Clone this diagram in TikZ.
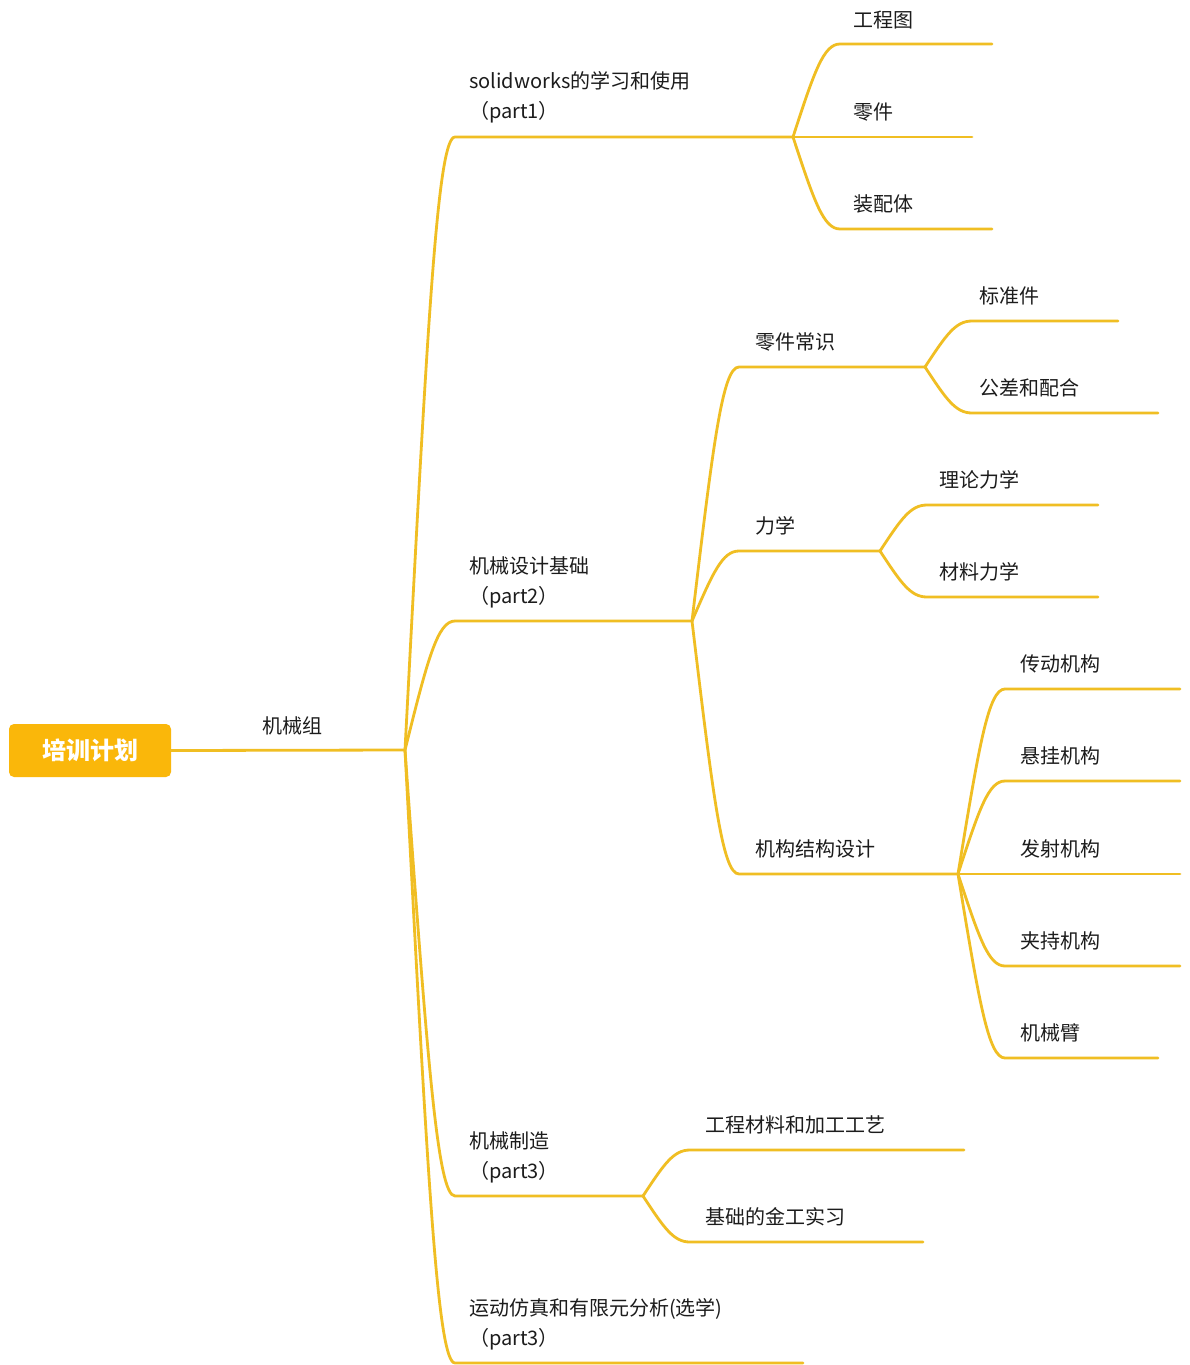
\documentclass[tikz,border=0pt]{standalone}
\usepackage{fontspec}
\newfontfamily\cjk{Noto Sans CJK SC}
\usetikzlibrary{calc}
\definecolor{lc}{RGB}{240,190,35}
\definecolor{rootc}{RGB}{250,183,10}
\definecolor{txt}{RGB}{28,28,28}
\begin{document}
\begin{tikzpicture}[x=1pt,y=-1pt,
  ln/.style={draw=lc,line width=2.8pt,line cap=round},
  br/.style={to path={let \p1=(\tikztostart), \p2=(\tikztotarget) in
    .. controls (\x1+0.45*\x2-0.45*\x1, \y1+0.7*\y2-0.7*\y1) and (\x1+0.65*\x2-0.65*\x1, \y2) .. (\tikztotarget)}},
  lbl/.style={anchor=west,inner sep=0pt,text=txt,font=\cjk\fontsize{20}{30}\selectfont},
  lbl2/.style={lbl,align=left},
  rootbox/.style={fill=rootc,rounded corners=5pt,minimum width=162pt,minimum height=53pt,inner sep=0pt,text=white,font=\cjk\bfseries\fontsize{24}{28}\selectfont}]
\fill[white] (0,0) rectangle (1189,1365);
\useasboundingbox (0,0) rectangle (1189,1365);

% root
\node[rootbox] (root) at (90,750.5) {培训计划};
\coordinate (j0) at (405,750);
\node[lbl] (l0) at (262,726) {机械组};
\draw[ln] (root.east) -- (j0);

% level 1
\coordinate (s1) at (455,137);  \coordinate (e1) at (793,137);
\coordinate (s2) at (455,621);  \coordinate (e2) at (692,621);
\coordinate (s3) at (455,1196); \coordinate (e3) at (643,1196);
\coordinate (s4) at (455,1363); \coordinate (e4) at (803,1363);
\draw[ln] (j0) to[br] (s1) -- (e1);
\draw[ln] (j0) to[br] (s2) -- (e2);
\draw[ln] (j0) to[br] (s3) -- (e3);
\draw[ln] (j0) to[br] (s4) -- (e4);
\node[lbl2] (l1) at (469,97.5) {solidworks的学习和使用\\（part1）};
\node[lbl2] (l2) at (469,582) {机械设计基础\\（part2）};
\node[lbl2] (l3) at (469,1157) {机械制造\\（part3）};
\node[lbl2] (l4) at (469,1324) {运动仿真和有限元分析(选学)\\（part3）};

% part1 children
\coordinate (s11) at (840,44);  \coordinate (e11) at (992,44);
\coordinate (s12) at (840,137); \coordinate (e12) at (972,137);
\coordinate (s13) at (840,229); \coordinate (e13) at (992,229);
\draw[ln] (e1) to[br] (s11) -- (e11);
\draw[ln] (e1) to[br] (s12) -- (e12);
\draw[ln] (e1) to[br] (s13) -- (e13);
\node[lbl] (l11) at (853,20) {工程图};
\node[lbl] (l12) at (853,112) {零件};
\node[lbl] (l13) at (853,204) {装配体};

% part2 children
\coordinate (s21) at (739,367); \coordinate (e21) at (925,367);
\coordinate (s22) at (739,551); \coordinate (e22) at (880,551);
\coordinate (s23) at (739,874); \coordinate (e23) at (958,874);
\draw[ln] (e2) to[br] (s21) -- (e21);
\draw[ln] (e2) to[br] (s22) -- (e22);
\draw[ln] (e2) to[br] (s23) -- (e23);
\node[lbl] (l21) at (755,342) {零件常识};
\node[lbl] (l22) at (755,526) {力学};
\node[lbl] (l23) at (755,849) {机构结构设计};

% 零件常识 children
\coordinate (s211) at (972,321); \coordinate (e211) at (1118,321);
\coordinate (s212) at (972,413); \coordinate (e212) at (1158,413);
\draw[ln] (e21) to[br] (s211) -- (e211);
\draw[ln] (e21) to[br] (s212) -- (e212);
\node[lbl] (l211) at (979,296) {标准件};
\node[lbl] (l212) at (979,388) {公差和配合};

% 力学 children
\coordinate (s221) at (927,505); \coordinate (e221) at (1098,505);
\coordinate (s222) at (927,597); \coordinate (e222) at (1098,597);
\draw[ln] (e22) to[br] (s221) -- (e221);
\draw[ln] (e22) to[br] (s222) -- (e222);
\node[lbl] (l221) at (939,480) {理论力学};
\node[lbl] (l222) at (939,572) {材料力学};

% 机构结构设计 children
\coordinate (s231) at (1005,689);  \coordinate (e231) at (1180,689);
\coordinate (s232) at (1005,781);  \coordinate (e232) at (1180,781);
\coordinate (s233) at (1005,874);  \coordinate (e233) at (1180,874);
\coordinate (s234) at (1005,966);  \coordinate (e234) at (1180,966);
\coordinate (s235) at (1005,1058); \coordinate (e235) at (1158,1058);
\draw[ln] (e23) to[br] (s231) -- (e231);
\draw[ln] (e23) to[br] (s232) -- (e232);
\draw[ln] (e23) to[br] (s233) -- (e233);
\draw[ln] (e23) to[br] (s234) -- (e234);
\draw[ln] (e23) to[br] (s235) -- (e235);
\node[lbl] (l231) at (1020,664) {传动机构};
\node[lbl] (l232) at (1020,756) {悬挂机构};
\node[lbl] (l233) at (1020,849) {发射机构};
\node[lbl] (l234) at (1020,941) {夹持机构};
\node[lbl] (l235) at (1020,1033) {机械臂};

% part3 children
\coordinate (s31) at (690,1150); \coordinate (e31) at (964,1150);
\coordinate (s32) at (690,1242); \coordinate (e32) at (923,1242);
\draw[ln] (e3) to[br] (s31) -- (e31);
\draw[ln] (e3) to[br] (s32) -- (e32);
\node[lbl] (l31) at (705,1125) {工程材料和加工工艺};
\node[lbl] (l32) at (705,1217) {基础的金工实习};
\end{tikzpicture}
\end{document}
